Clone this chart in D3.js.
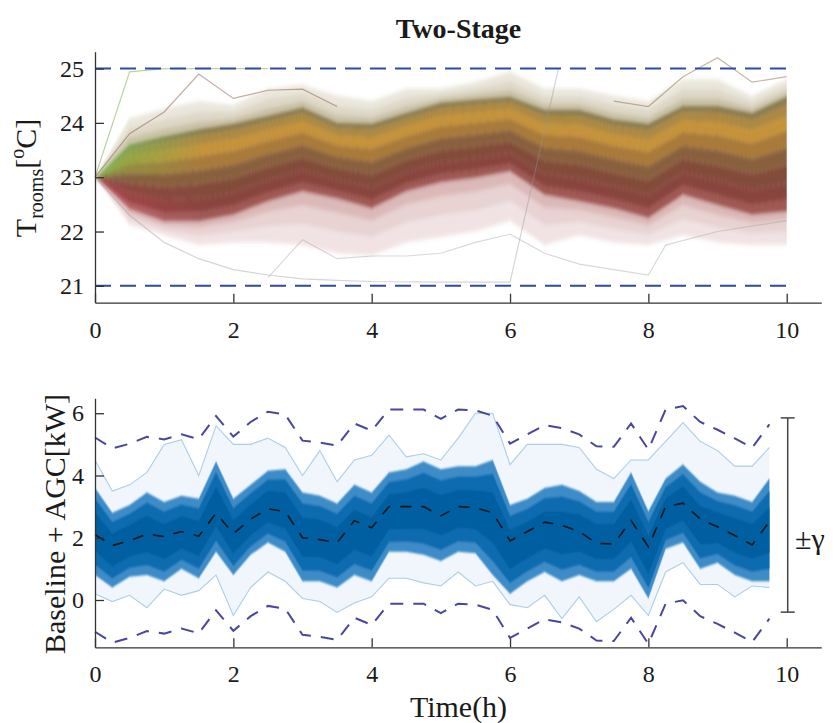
<!DOCTYPE html>
<html>
<head>
<meta charset="utf-8">
<title>Two-Stage</title>
<script src="https://d3js.org/d3.v7.min.js"></script>
<style>
body{ margin:0; background:#fff; }
text{ font-family:"Liberation Serif","Times New Roman",serif; fill:#1a1a1a; }
.axis path, .axis line{ stroke:#333; stroke-width:1.3; }
</style>
</head>
<body>
<svg id="chart" width="838" height="723"></svg>
<script>
// ---- data ----
// top panel: room temperature bundle, every 0.5 h
var topTime = [0,0.5,1,1.5,2,2.5,3,3.5,4,4.5,5,5.5,6,6.5,7,7.5,8,8.5,9,9.5,10];
var topHi  = [23,23.62,23.77,23.9,24.0,24.15,24.3,24.02,24.0,24.2,24.39,24.45,24.5,24.26,24.26,24.08,24.0,24.33,24.33,24.2,24.5];
var topLo  = [23,22.4,22.18,22.18,22.3,22.55,22.73,22.6,22.42,22.73,22.9,22.98,23.1,22.67,22.55,22.42,22.24,22.67,22.48,22.3,22.36];
var topMax = [23,24.08,24.26,24.4,24.33,24.63,24.7,24.5,24.4,24.63,24.63,24.75,24.94,24.63,24.63,24.5,24.4,24.8,24.8,24.5,24.8];
var topMin = [23,22.12,21.93,21.75,21.8,21.8,21.75,21.6,21.56,21.8,21.9,22.0,22.2,21.75,21.93,21.8,21.75,21.93,21.8,21.75,21.75];
var tempLimits = [21, 25];

// a few lines that leave the bundle
var greenT = [0,0.5,1,1.5,2,2.5];
var greenV = [23,24.94,25,25,25,25];
var peakT  = [0,0.5,1,1.5,2,2.5,3,3.5];
var peakV  = [23,23.8,24.2,24.9,24.45,24.6,24.62,24.3];
var lateT  = [7.5,8,8.5,9,9.5,10];
var lateV  = [24.4,24.3,24.85,25.2,24.75,24.85];
var grayAT = [0,0.5,1,1.5,2,2.5,3,3.5,4,5,6,6.7];
var grayAV = [23,22.3,21.8,21.5,21.3,21.2,21.13,21.1,21.08,21.07,21.07,25];
var grayBT = [2.5,3,3.5,4,4.5,5,5.5,6,6.5,7,7.5,8,8.25,9,10];
var grayBV = [21.15,21.85,21.5,21.55,21.55,21.6,21.8,21.95,21.6,21.4,21.3,21.2,21.75,22.0,22.2];

// bottom panel: baseline + AGC, every 0.25 h
var botTime = [0,0.25,0.5,0.75,1,1.25,1.5,1.75,2,2.25,2.5,2.75,3,3.25,3.5,3.75,4,4.25,4.5,4.75,
               5,5.25,5.5,5.75,6,6.25,6.5,6.75,7,7.25,7.5,7.75,8,8.25,8.5,8.75,9,9.25,9.5,9.75];
var botMean = [2.1,1.75,1.9,2.12,2.04,2.2,2.05,2.79,2.13,2.6,2.93,2.84,2.0,1.94,1.84,2.55,2.32,3.0,3.0,3.0,
               2.7,3.0,2.97,2.8,1.9,2.2,2.5,2.4,2.2,1.82,1.8,2.55,1.71,3.0,3.11,2.6,2.35,2.07,1.77,2.52];
var botCoreHi = [3.6,2.8,3.05,3.45,3.15,3.35,3.25,4.45,3.25,3.7,4.15,4.2,3.45,3.35,3.1,3.7,3.45,4.1,4.2,4.45,
                 4.2,4.3,4.3,4.5,3.05,3.25,3.6,3.7,3.5,3.15,3.15,4.1,2.85,3.9,4.35,3.8,3.45,3.35,3.15,3.9];
var botCoreLo = [0.8,0.4,0.75,0.8,0.6,1.0,0.7,1.55,0.8,1.45,1.85,1.55,0.6,0.6,0.4,0.8,0.6,1.55,1.55,1.45,
                 1.25,1.55,1.5,0.8,0.2,0.6,0.9,0.6,0.8,0.6,0.6,1.0,0.05,1.65,1.85,1.0,1.2,0.8,0.6,0.6];
var botOutHi = [4.5,3.5,3.7,4.1,5.0,5.15,4.0,5.6,5.0,5.0,5.2,4.9,4.0,4.8,3.8,4.5,4.65,5.3,4.6,4.7,
                4.5,5.2,6.0,6.0,4.35,5.0,5.0,5.0,4.9,4.2,3.9,4.5,4.5,5.1,5.7,5.1,4.8,4.3,4.3,4.9];
var botOutLo = [0.2,-0.05,0.15,-0.25,0.35,0.15,0.3,0.8,-0.5,0.4,0.9,0.6,0.05,-0.05,-0.4,-0.1,0.1,0.7,0.7,0.55,
                0.45,0.9,0.45,0.6,-0.15,-0.25,0.15,-0.6,0.1,-0.7,-0.3,0.15,-0.5,0.9,1.2,0.5,0.5,0.1,0.45,0.4];
var gamma = 3.12;
var gammaCenter = 2.73;

var xTicks = [0,2,4,6,8,10];
var topYTicks = [21,22,23,24,25];
var botYTicks = [0,2,4,6];

// ---- drawing ----
var svg = d3.select("#chart");
var x  = d3.scaleLinear().domain([0, 10.5]).range([95, 821.3]);
var yT = d3.scaleLinear().domain([20.69, 25.31]).range([302.7, 51.7]);
var yB = d3.scaleLinear().domain([-1.52, 6.48]).range([647.3, 398.3]);

function band(times, lo, hi, f0, f1, y){
    return d3.area()
        .x(function(d,i){ return x(times[i]); })
        .y0(function(d,i){ return y(lo[i] + (hi[i]-lo[i])*f0); })
        .y1(function(d,i){ return y(lo[i] + (hi[i]-lo[i])*f1); })(times);
}
function line(times, vals, y){
    return d3.line()
        .x(function(d,i){ return x(times[i]); })
        .y(function(d,i){ return y(vals[i]); })(times);
}

var defs = svg.append("defs");
defs.append("filter").attr("id", "soft").attr("x", "-5%").attr("y", "-20%").attr("width", "110%").attr("height", "140%")
    .append("feGaussianBlur").attr("stdDeviation", "0.6 2.2");
defs.append("filter").attr("id", "softB").attr("x", "-5%").attr("y", "-20%").attr("width", "110%").attr("height", "140%")
    .append("feGaussianBlur").attr("stdDeviation", "0.4 1.2");

// top panel
var topG = svg.append("g");
var fringe = topG.append("g").attr("filter", "url(#soft)");
// sparse lines above and below the dense bundle, fading outwards
[[0, 0.4, 0.2], [0.4, 0.75, 0.32], [0.75, 1, 0.5]].forEach(function(f){
    fringe.append("path").attr("d", band(topTime, topHi, topMax, 1 - f[1], 1 - f[0], yT))
        .attr("fill", "rgb(150,135,80)").attr("opacity", f[2]);
    fringe.append("path").attr("d", band(topTime, topMin, topLo, f[0], f[1], yT))
        .attr("fill", "rgb(185,115,115)").attr("opacity", f[2]);
});

var topShades = [
    {f0:0.00, f1:0.10, early:"rgb(185,85,95)",  late:"rgb(150,70,65)"},
    {f0:0.10, f1:0.25, early:"rgb(155,50,55)",  late:"rgb(125,48,40)"},
    {f0:0.25, f1:0.40, early:"rgb(135,50,45)",  late:"rgb(118,55,38)"},
    {f0:0.40, f1:0.55, early:"rgb(120,80,45)",  late:"rgb(125,80,40)"},
    {f0:0.55, f1:0.70, early:"rgb(125,135,45)", late:"rgb(160,108,38)"},
    {f0:0.70, f1:0.82, early:"rgb(115,165,45)", late:"rgb(192,135,35)"},
    {f0:0.82, f1:0.92, early:"rgb(110,165,55)", late:"rgb(165,125,45)"},
    {f0:0.92, f1:1.00, early:"rgb(110,160,65)", late:"rgb(128,110,60)"}
];
var core = topG.append("g").attr("filter", "url(#soft)");
topShades.forEach(function(s, k){
    var g = defs.append("linearGradient").attr("id", "tg" + k)
        .attr("gradientUnits", "userSpaceOnUse")
        .attr("x1", x(0)).attr("x2", x(1.6)).attr("y1", 0).attr("y2", 0);
    g.append("stop").attr("offset", 0).attr("stop-color", s.early);
    g.append("stop").attr("offset", 1).attr("stop-color", s.late);
    core.append("path").attr("d", band(topTime, topLo, topHi, s.f0, s.f1, yT))
        .attr("fill", "url(#tg" + k + ")").attr("opacity", 0.9);
});

[[grayAT, grayAV, "rgb(150,150,150)", 0.4], [grayBT, grayBV, "rgb(160,160,160)", 0.4],
 [greenT, greenV, "rgb(120,170,60)", 0.5], [peakT, peakV, "rgb(140,90,70)", 0.5], [lateT, lateV, "rgb(140,110,70)", 0.5]]
.forEach(function(o){
    topG.append("path").attr("d", line(o[0], o[1], yT))
        .attr("fill", "none").attr("stroke", o[2]).attr("stroke-width", 1.2).attr("opacity", o[3]);
});

tempLimits.forEach(function(v){
    topG.append("line")
        .attr("x1", x(0)).attr("x2", x(10)).attr("y1", yT(v)).attr("y2", yT(v))
        .attr("stroke", "#2d4aa8").attr("stroke-width", 2).attr("stroke-dasharray", "16,9");
});

function styleAxis(g){
    g.attr("font-family", "Liberation Serif, serif").attr("font-size", 24);
    g.selectAll("text").style("font-family", "'Liberation Serif', serif").style("font-size", "24px").attr("fill", "#1a1a1a");
}
var fmt = d3.format("d");

svg.append("g").attr("class", "axis").attr("transform", "translate(0," + yT.range()[0] + ")")
    .call(d3.axisBottom(x).tickValues(xTicks).tickFormat(fmt).tickSizeInner(-9).tickSizeOuter(0).tickPadding(18))
    .call(styleAxis);
svg.append("g").attr("class", "axis").attr("transform", "translate(" + x(0) + ",0)")
    .call(d3.axisLeft(yT).tickValues(topYTicks).tickFormat(fmt).tickSizeInner(-9).tickSizeOuter(0).tickPadding(11))
    .call(styleAxis);

// bottom panel
var botG = svg.append("g");
botG.append("path").attr("d", band(botTime, botOutLo, botOutHi, 0, 1, yB))
    .attr("fill", "rgb(185,214,236)").attr("opacity", 0.22);
[botOutHi, botOutLo].forEach(function(arr){
    botG.append("path").attr("d", line(botTime, arr, yB))
        .attr("fill", "none").attr("stroke", "rgb(140,188,222)").attr("stroke-width", 1.1).attr("opacity", 0.7);
});
var botCore = botG.append("g").attr("filter", "url(#softB)");
botCore.append("path").attr("d", band(botTime, botCoreLo, botCoreHi, 0, 1, yB))
    .attr("fill", "rgb(60,140,200)");
botCore.append("path").attr("d", band(botTime, botCoreLo, botCoreHi, 0.12, 0.88, yB))
    .attr("fill", "rgb(15,108,175)");
botCore.append("path").attr("d", band(botTime, botCoreLo, botCoreHi, 0.28, 0.72, yB))
    .attr("fill", "rgb(0,95,160)");

var upper = botMean.map(function(m){ return m + gamma; });
var lower = botMean.map(function(m){ return m - gamma; });
[upper, lower].forEach(function(arr){
    botG.append("path").attr("d", line(botTime, arr, yB))
        .attr("fill", "none").attr("stroke", "#47479e").attr("stroke-width", 2).attr("stroke-dasharray", "13,10");
});
botG.append("path").attr("d", line(botTime, botMean, yB))
    .attr("fill", "none").attr("stroke", "#151515").attr("stroke-width", 1.6).attr("stroke-dasharray", "11,10");

// +- gamma bracket
var bx = x(10) + 1;
var bTop = yB(gammaCenter + gamma), bBot = yB(gammaCenter - gamma);
var brk = svg.append("g").attr("stroke", "#444").attr("stroke-width", 1.5);
brk.append("line").attr("x1", bx).attr("x2", bx).attr("y1", bTop).attr("y2", bBot);
brk.append("line").attr("x1", bx - 7).attr("x2", bx + 7).attr("y1", bTop).attr("y2", bTop);
brk.append("line").attr("x1", bx - 7).attr("x2", bx + 7).attr("y1", bBot).attr("y2", bBot);
svg.append("text").attr("x", 795).attr("y", 549).attr("font-size", 30).text("±γ");

svg.append("g").attr("class", "axis").attr("transform", "translate(0," + yB.range()[0] + ")")
    .call(d3.axisBottom(x).tickValues(xTicks).tickFormat(fmt).tickSizeInner(-9).tickSizeOuter(0).tickPadding(18))
    .call(styleAxis);
svg.append("g").attr("class", "axis").attr("transform", "translate(" + x(0) + ",0)")
    .call(d3.axisLeft(yB).tickValues(botYTicks).tickFormat(fmt).tickSizeInner(-9).tickSizeOuter(0).tickPadding(11))
    .call(styleAxis);

// labels
svg.append("text").attr("x", 458.5).attr("y", 38).attr("text-anchor", "middle")
    .attr("font-size", 28).attr("font-weight", "bold").text("Two-Stage");

var yl = svg.append("text").attr("transform", "translate(36,178) rotate(-90)")
    .attr("text-anchor", "middle").attr("font-size", 30);
yl.append("tspan").text("T");
yl.append("tspan").attr("font-size", 20).attr("dy", 7).text("rooms");
yl.append("tspan").attr("dy", -7).text("[");
yl.append("tspan").attr("font-size", 20).attr("dy", -12).text("o");
yl.append("tspan").attr("dy", 12).text("C]");

svg.append("text").attr("transform", "translate(65,524) rotate(-90)")
    .attr("text-anchor", "middle").attr("font-size", 30).text("Baseline + AGC[kW]");

svg.append("text").attr("x", 458.5).attr("y", 717).attr("text-anchor", "middle")
    .attr("font-size", 30).text("Time(h)");
</script>
</body>
</html>
